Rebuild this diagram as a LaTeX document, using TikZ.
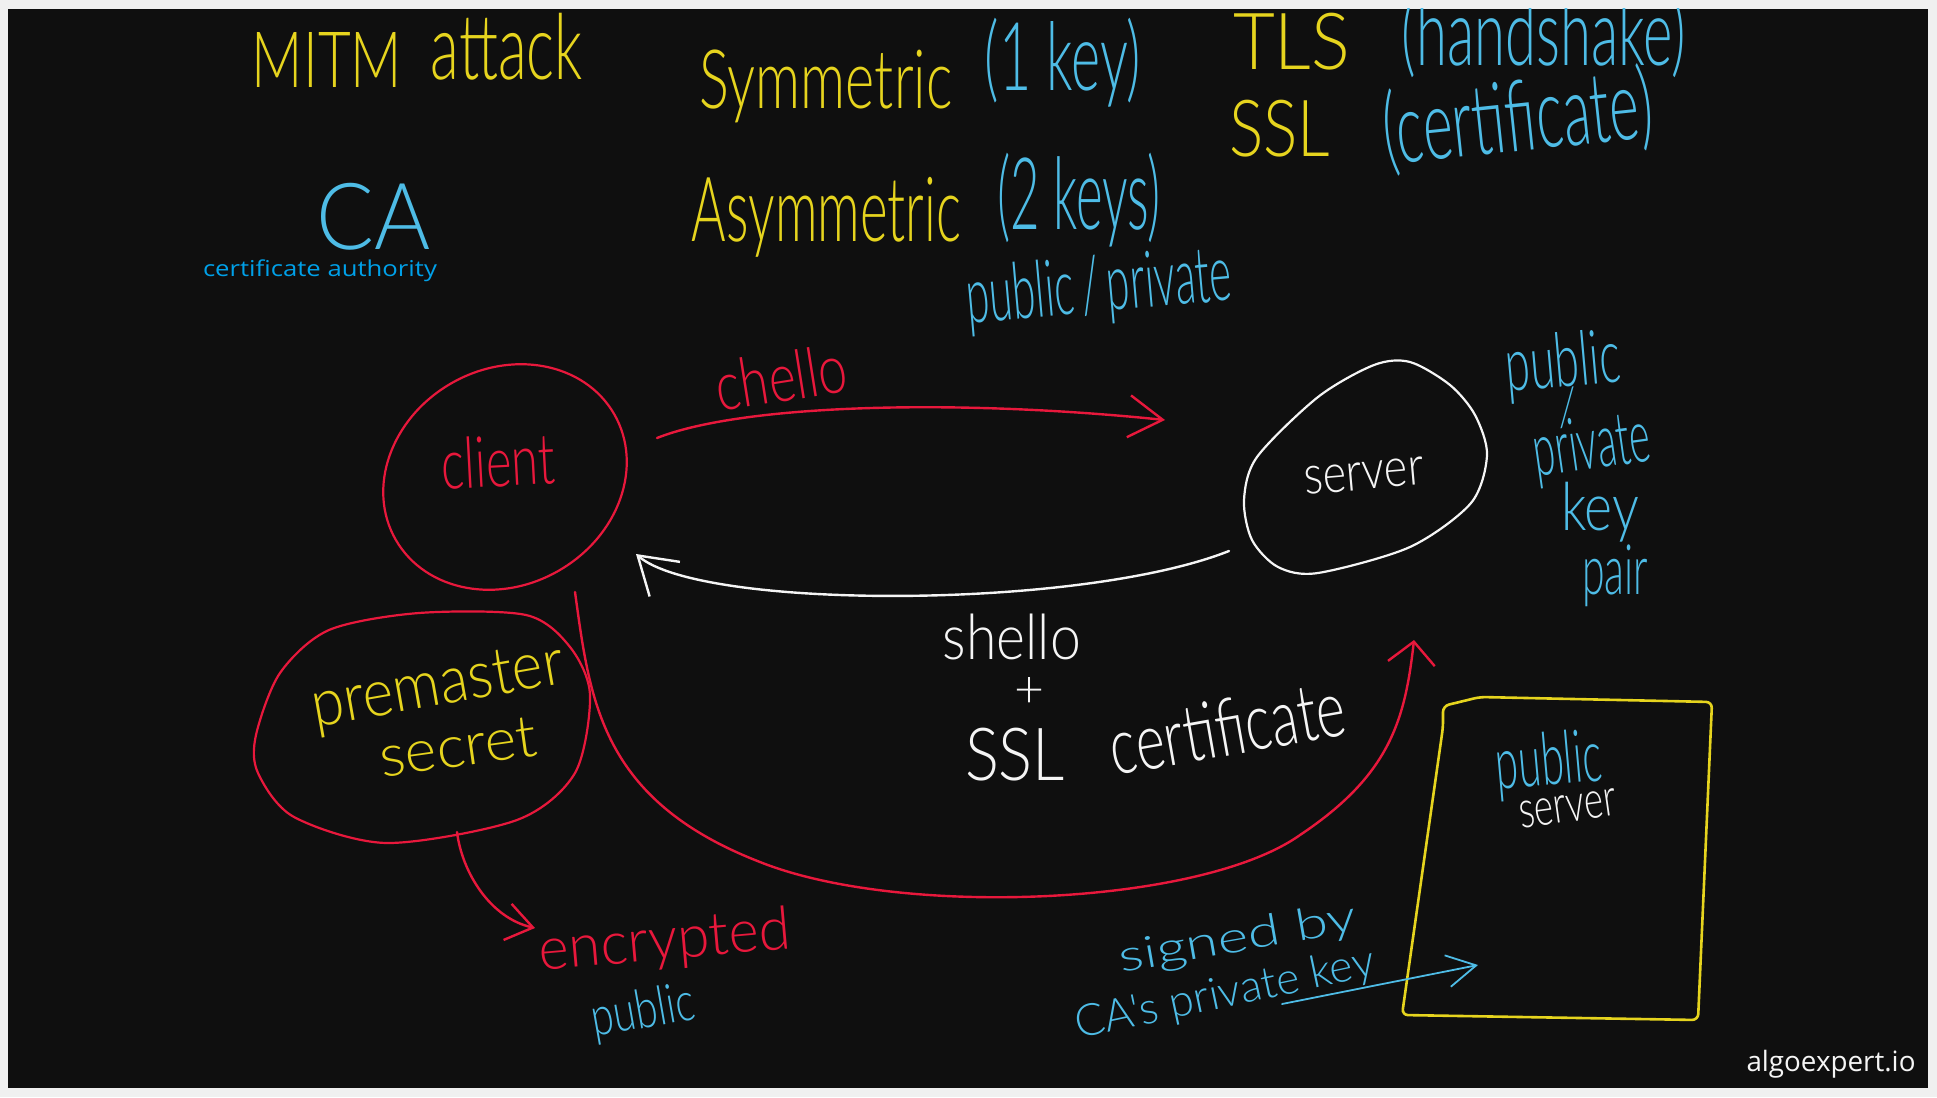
\documentclass[tikz,border=0pt]{standalone}
\usepackage{graphicx}
\usepackage{fontspec}
\usetikzlibrary{shapes.geometric,arrows.meta}
\IfFontExistsTF{Lato Light}{\newfontfamily\hand{Lato Light}}{\newfontfamily\hand{Fira Sans}}
\newfontfamily\typed{Open Sans}
\definecolor{bgc}{HTML}{0F0F0F}
\definecolor{framec}{HTML}{F0F0F0}
\definecolor{hyel}{RGB}{230,212,30}
\definecolor{hblue}{RGB}{78,188,230}
\definecolor{hred}{RGB}{232,24,60}
\definecolor{hwhite}{RGB}{245,245,245}
\definecolor{tblue}{RGB}{0,160,232}
\newcommand{\hw}[3]{\resizebox*{#1pt}{#2pt}{#3}}
\begin{document}
\begin{tikzpicture}[x=1pt,y=-1pt,
  txt/.style={inner sep=0pt, outer sep=0pt, font=\hand},
  ytxt/.style={txt, text=hyel},
  btxt/.style={txt, text=hblue},
  rtxt/.style={txt, text=hred},
  wtxt/.style={txt, text=hwhite},
  ttxt/.style={inner sep=0pt, outer sep=0pt, font=\typed},
  blob/.style={line width=2.2pt, line join=round},
  harrow/.style={line width=2.4pt, line cap=round, line join=round}]
\fill[framec] (0,0) rectangle (1937,1097);
\fill[bgc] (8,9) rectangle (1928,1088);
\begin{scope}
\clip (8,9) rectangle (1928,1088);
% top texts
\node[ytxt] (mitm) at (327,59.5) {\hw{150}{55}{MITM}};
\node[ytxt] (attack) at (507,46.5) {\hw{152}{67}{attack}};
\node[ytxt] (sym) at (826,86.5) {\hw{253}{73}{Symmetric}};
\node[btxt] (onekey) at (1063,62.5) {\hw{156}{89}{(1 key)}};
\node[ytxt] (tls) at (1291.5,41.5) {\hw{117}{57}{TLS}};
\node[btxt] (handshake) at (1544,36.5) {\hw{284}{83}{(handshake)}};
\node[ytxt] (ssl) at (1279.5,128.5) {\hw{101}{57}{SSL}};
\node[btxt,rotate=6] (cert) at (1518,120) {\hw{270}{88}{(certificate)}};
\node[ytxt] (asym) at (826.5,217) {\hw{269}{80}{Asymmetric}};
\node[btxt] (twokeys) at (1079,200) {\hw{164}{94}{(2 keys)}};
\node[btxt,rotate=5] (pubpriv) at (1099,290) {\hw{266}{71}{public\,/\,private}};
\node[btxt] (ca) at (374,216.5) {\hw{114}{67}{CA}};
\node[ttxt,text=tblue] (caauth) at (320,271) {\resizebox*{234pt}{22pt}{certificate authority}};
% client / server blobs
\node[ellipse, inner sep=0pt, blob, draw=hred, minimum width=252, minimum height=216, rotate=30] (clientshape) at (505,477) {};
\node[rtxt,rotate=3] (client) at (498,461) {\hw{114}{52}{client}};
\draw[blob, hwhite] plot[smooth cycle] coordinates {(1410,362) (1450,385) (1475,415) (1487,455) (1471,503) (1410,547) (1318,573) (1278,567) (1252,540) (1244,500) (1257,457) (1318,397) (1374,365)};
\node[wtxt,rotate=5] (server) at (1364,476) {\hw{120}{28}{server}};
\node[rtxt,rotate=9] (chello) at (781,377) {\hw{132}{50}{chello}};
% key pair text
\node[btxt,rotate=5] (pub1) at (1563,366) {\hw{115}{68}{public}};
\node[btxt] (slash1) at (1567,408) {\hw{16}{42}{/}};
\node[btxt,rotate=8] (priv1) at (1592,449) {\hw{118}{66}{private}};
\node[btxt] (key1) at (1600,512) {\hw{78}{60}{key}};
\node[btxt] (pair1) at (1615,576) {\hw{66}{62}{pair}};
% shello texts
\node[wtxt] (shello) at (1012,637) {\hw{138}{46}{shello}};
\node[wtxt] (plus) at (1029,692) {\hw{30}{30}{+}};
\node[wtxt] (sslw) at (1015,755) {\hw{100}{53}{SSL}};
\node[wtxt,rotate=10] (certw) at (1227,727) {\hw{238}{58}{certificate}};
% premaster
\draw[blob, hred] plot[smooth cycle] coordinates {(419,613) (526,615) (570,647) (590,695) (575,773) (517,820) (387,843) (294,817) (258,773) (256,735) (280,673) (329,630)};
\node[ytxt,rotate=10] (premaster) at (438,689) {\hw{255}{56}{premaster}};
\node[ytxt,rotate=8] (secret) at (458,747) {\hw{158}{40}{secret}};
\node[rtxt,rotate=5] (encr) at (665,943) {\hw{252}{54}{encrypted}};
\node[btxt,rotate=10] (pub2) at (643,1013) {\hw{104}{49}{public}};
% signed
\node[btxt,rotate=10] (signed) at (1238,940) {\hw{240}{40}{signed by}};
\node[btxt,rotate=12] (capriv) at (1225,995) {\hw{305}{40}{CA's private key}};
% certificate box
\draw[hyel, line width=2.6pt, rounded corners=6pt] (1443,727) -- (1443,706) -- (1480,697) -- (1712,702) -- (1698,1020) -- (1402,1015) -- cycle;
\node[btxt,rotate=5] (pub3) at (1549,765) {\hw{106}{66}{public}};
\node[wtxt,rotate=8] (serv3) at (1568,809) {\hw{98}{27}{server}};
% connectors
\coordinate (chS) at (657,438);
\coordinate (chE) at (1165,420);
\draw[harrow, hred, -{Straight Barb[length=34pt,width=42pt]}] (chS) .. controls (740,405) and (950,398) .. (chE);
\coordinate (shS) at (1229,551);
\coordinate (shE) at (636,554);
\draw[harrow, hwhite, -{Straight Barb[length=36pt,width=46pt]}] (shS) .. controls (1080,610) and (700,610) .. (shE);
\coordinate (rS) at (575,592);
\coordinate (rE) at (1414,640);
\draw[harrow, hred, -{Straight Barb[length=22pt,width=47pt]}] (rS) .. controls (590,700) and (600,800) .. (760,862) .. controls (900,918) and (1200,906) .. (1300,835) .. controls (1390,775) and (1405,720) .. (rE);
\coordinate (pS) at (457,832);
\coordinate (pE) at (535,928);
\draw[harrow, hred, -{Straight Barb[length=26pt,width=37pt]}] (pS) .. controls (462,872) and (490,918) .. (pE);
\coordinate (bS) at (1282,1004);
\coordinate (bE) at (1478,965);
\draw[harrow, hblue, line width=1.8pt, -{Straight Barb[length=29pt,width=32pt]}] (bS) -- (bE);
\end{scope}
\node[ttxt,text=hwhite] (logo) at (1831,1064) {\resizebox*{169pt}{28pt}{algoexpert.io}};
\end{tikzpicture}
\end{document}
